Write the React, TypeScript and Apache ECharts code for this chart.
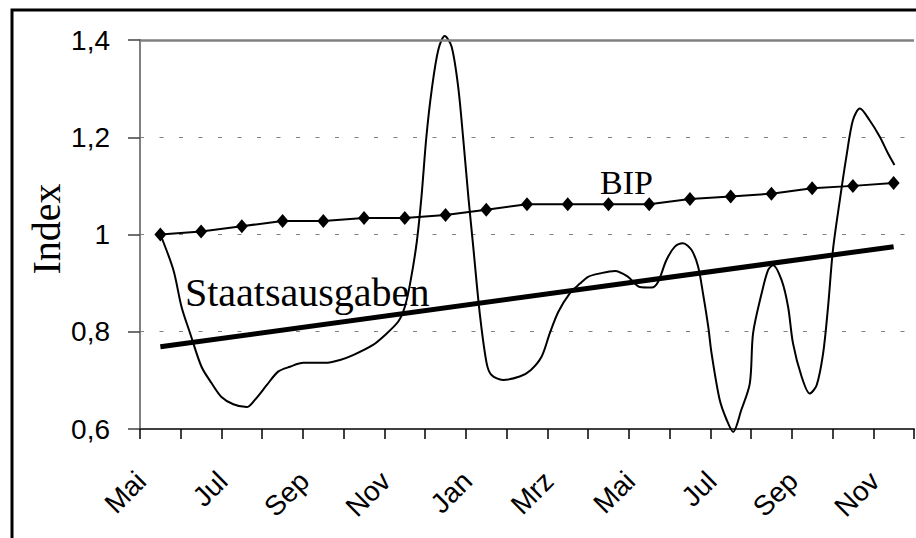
import React, { useEffect, useRef } from "react";
import * as echarts from "echarts";

// Categories (months, May of year 1 to November of year 2)
const months = [
  "Mai", "Jun", "Jul", "Aug", "Sep", "Okt", "Nov", "Dez", "Jan", "Feb",
  "Mrz", "Apr", "Mai", "Jun", "Jul", "Aug", "Sep", "Okt", "Nov",
];

// BIP index, one value per month
const bipValues = [
  1.0, 1.006, 1.017, 1.028, 1.028, 1.034, 1.034, 1.04, 1.051, 1.062,
  1.062, 1.062, 1.062, 1.073, 1.078, 1.084, 1.095, 1.1, 1.106,
];

// Staatsausgaben (fine-grained): position in month index and value
const spendPos = [
  0, 0.32, 0.52, 0.73, 1.01, 1.26, 1.5, 1.79, 2.12, 2.32, 2.61, 2.89, 3.18, 3.51,
  4.04, 4.41, 4.73, 5.22, 5.51, 5.84, 6.0, 6.13, 6.29, 6.41, 6.53, 6.66, 6.82,
  6.98, 7.15, 7.31, 7.43, 7.56, 7.68, 7.84, 8.01, 8.13, 8.41, 8.82, 9.09, 9.36,
  9.56, 9.77, 10.05, 10.3, 10.5, 10.79, 11.16, 11.48, 11.77, 12.06, 12.22, 12.42,
  12.63, 12.83, 13.04, 13.2, 13.32, 13.45, 13.53, 13.73, 13.9, 14.06, 14.26,
  14.47, 14.55, 14.76, 14.92, 15.04, 15.25, 15.41, 15.53, 15.74, 15.94, 16.11,
  16.27, 16.39, 16.51, 16.68, 16.84, 17.0, 17.17, 17.41, 17.66, 17.86, 18.02,
];
const spendVal = [
  1.0, 0.927, 0.851, 0.797, 0.728, 0.694, 0.666, 0.651, 0.645, 0.66, 0.69, 0.718,
  0.728, 0.736, 0.736, 0.742, 0.752, 0.773, 0.793, 0.821, 0.851, 0.899, 0.982,
  1.078, 1.201, 1.297, 1.379, 1.408, 1.386, 1.304, 1.201, 1.078, 0.975, 0.838,
  0.735, 0.711, 0.701, 0.708, 0.721, 0.749, 0.797, 0.841, 0.879, 0.899, 0.913,
  0.92, 0.925, 0.913, 0.892, 0.891, 0.903, 0.947, 0.975, 0.982, 0.968, 0.934,
  0.879, 0.81, 0.756, 0.66, 0.619, 0.594, 0.639, 0.694, 0.797, 0.879, 0.927,
  0.937, 0.906, 0.851, 0.776, 0.708, 0.673, 0.69, 0.756, 0.851, 0.968, 1.071,
  1.16, 1.235, 1.259, 1.235, 1.201, 1.167, 1.143,
];

// Linear trend of Staatsausgaben
const trendPos = [0, 18];
const trendVal = [0.769, 0.975];

// Y axis
const yMin = 0.6;
const yMax = 1.4;
const yStep = 0.2;

const SANS = "'Liberation Sans', Arial, sans-serif";
const SERIF = "'Liberation Serif', 'Times New Roman', serif";

export default function App() {
  const ref = useRef<HTMLDivElement>(null);

  useEffect(() => {
    if (!ref.current) return;
    const chart = echarts.init(ref.current, undefined, { renderer: "svg" });

    const spendData = spendPos.map((p, i) => [p, spendVal[i]]);
    const trendData = trendPos.map((p, i) => [p, trendVal[i]]);

    chart.setOption({
      animation: false,
      backgroundColor: "#ffffff",
      grid: { left: 140, top: 40, right: 2, bottom: 109 },
      xAxis: [
        {
          type: "category",
          data: months,
          boundaryGap: true,
          axisLine: { show: true, lineStyle: { color: "#404040", width: 2 } },
          axisTick: {
            show: true,
            interval: 0,
            length: 10,
            lineStyle: { color: "#000000", width: 1.5 },
          },
          axisLabel: {
            interval: 1,
            rotate: 45,
            margin: 48,
            align: "right",
            verticalAlign: "bottom",
            padding: [0, 13, 0, 0],
            color: "#000000",
            fontFamily: SANS,
            fontSize: 28,
          },
          splitLine: { show: false },
        },
        {
          type: "value",
          min: -0.5,
          max: 18.5,
          show: false,
        },
      ],
      yAxis: {
        type: "value",
        min: yMin,
        max: yMax,
        interval: yStep,
        axisLine: {
          show: true,
          onZero: false,
          lineStyle: { color: "#808080", width: 2 },
        },
        axisTick: {
          show: true,
          length: 12,
          lineStyle: { color: "#404040", width: 1.5 },
        },
        axisLabel: {
          margin: 30,
          color: "#000000",
          fontFamily: SANS,
          fontSize: 28,
          formatter: (v: number) =>
            String(Math.round(v * 10) / 10).replace(".", ","),
        },
        splitLine: {
          show: true,
          lineStyle: { color: "#808080", width: 1, type: [4, 15.5] },
        },
      },
      graphic: [
        {
          type: "rect",
          shape: { x: 12, y: 10, width: 1000, height: 1000 },
          style: { fill: "none", stroke: "#000000", lineWidth: 3 },
          silent: true,
          z: 100,
        },
        {
          type: "text",
          x: 46,
          y: 229,
          rotation: Math.PI / 2,
          style: {
            text: "Index",
            font: `40px ${SERIF}`,
            fill: "#000000",
            align: "center",
            verticalAlign: "middle",
          },
        },
        {
          type: "text",
          x: 185,
          y: 292,
          style: {
            text: "Staatsausgaben",
            font: `40px ${SERIF}`,
            fill: "#000000",
            align: "left",
            verticalAlign: "middle",
          },
        },
        {
          type: "text",
          x: 600,
          y: 182,
          style: {
            text: "BIP",
            font: `34px ${SERIF}`,
            fill: "#000000",
            align: "left",
            verticalAlign: "middle",
          },
        },
      ],
      series: [
        {
          name: "BIP",
          type: "line",
          xAxisIndex: 0,
          data: bipValues,
          symbol: "diamond",
          symbolSize: [12, 14],
          itemStyle: { color: "#000000" },
          lineStyle: { color: "#000000", width: 2 },
          z: 5,
          markLine: {
            silent: true,
            symbol: "none",
            label: { show: false },
            lineStyle: { color: "#808080", width: 2.5, type: "solid" },
            data: [{ yAxis: yMax }],
          },
        },
        {
          name: "Staatsausgaben",
          type: "line",
          xAxisIndex: 1,
          data: spendData,
          symbol: "none",
          smooth: 0.3,
          clip: false,
          lineStyle: { color: "#000000", width: 2 },
          z: 4,
        },
        {
          name: "Trend",
          type: "line",
          xAxisIndex: 1,
          data: trendData,
          symbol: "none",
          lineStyle: { color: "#000000", width: 5 },
          z: 3,
        },
      ],
    });

    return () => {
      chart.dispose();
    };
  }, []);

  return (
    <div
      ref={ref}
      style={{ position: "fixed", left: 0, top: 0, width: 916, height: 538 }}
    />
  );
}
